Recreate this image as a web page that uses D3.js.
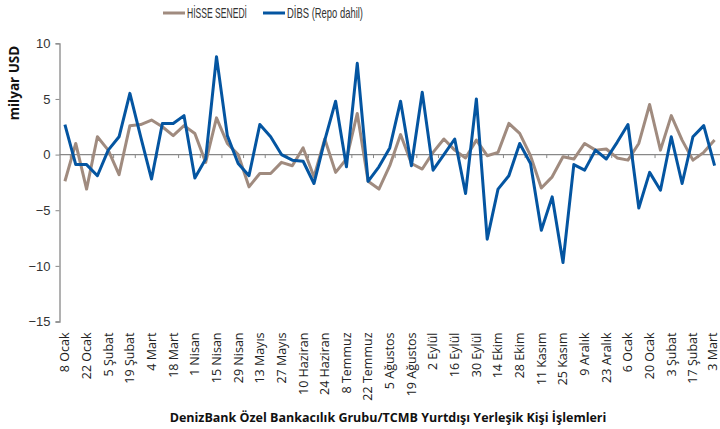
<!DOCTYPE html>
<html>
<head>
<meta charset="utf-8">
<script src="https://cdn.jsdelivr.net/npm/d3@7"></script>
<style>
  body { margin: 0; background: #fff; }
  svg { display: block; }
</style>
</head>
<body>
<div id="chart"></div>
<script>
// Haftalık kategoriler (etiket her iki haftada bir)
const weeks = [
  "8 Ocak", "15 Ocak", "22 Ocak", "29 Ocak", "5 Şubat", "12 Şubat", "19 Şubat", "26 Şubat",
  "4 Mart", "11 Mart", "18 Mart", "25 Mart", "1 Nisan", "8 Nisan", "15 Nisan", "22 Nisan",
  "29 Nisan", "6 Mayıs", "13 Mayıs", "20 Mayıs", "27 Mayıs", "3 Haziran", "10 Haziran", "17 Haziran",
  "24 Haziran", "1 Temmuz", "8 Temmuz", "15 Temmuz", "22 Temmuz", "29 Temmuz", "5 Ağustos", "12 Ağustos",
  "19 Ağustos", "26 Ağustos", "2 Eylül", "9 Eylül", "16 Eylül", "23 Eylül", "30 Eylül", "7 Ekim",
  "14 Ekim", "21 Ekim", "28 Ekim", "4 Kasım", "11 Kasım", "18 Kasım", "25 Kasım", "2 Aralık",
  "9 Aralık", "16 Aralık", "23 Aralık", "30 Aralık", "6 Ocak", "13 Ocak", "20 Ocak", "27 Ocak",
  "3 Şubat", "10 Şubat", "17 Şubat", "24 Şubat", "3 Mart"
];

// HİSSE SENEDİ (milyar USD)
const hisse = [
  -2.4, 1.0, -3.1, 1.6, 0.4, -1.8, 2.6, 2.7, 3.1, 2.5, 1.7, 2.6, 1.9, -0.7, 3.3, 1.0,
  0.0, -2.9, -1.7, -1.7, -0.7, -1.0, 0.6, -2.0, 1.4, -1.6, -0.4, 3.7, -2.4, -3.1, -1.0, 1.8,
  -0.8, -1.3, 0.2, 1.4, 0.4, -0.3, 1.3, -0.1, 0.2, 2.8, 1.9, -0.1, -3.0, -2.0, -0.2, -0.4,
  1.0, 0.4, 0.5, -0.3, -0.5, 1.0, 4.5, 0.4, 3.5, 1.3, -0.5, 0.2, 1.3
];

// DİBS (Repo dahil) (milyar USD)
const dibs = [
  2.7, -0.9, -0.9, -1.9, 0.4, 1.6, 5.5, 1.6, -2.2, 2.8, 2.8, 3.5, -2.1, -0.4, 8.8, 1.7,
  -0.8, -1.9, 2.7, 1.6, 0.0, -0.5, -0.6, -2.6, 1.3, 4.8, -1.1, 8.2, -2.4, -1.1, 0.6, 4.8,
  -1.0, 5.6, -1.4, 0.0, 1.4, -3.5, 5.0, -7.6, -3.1, -1.9, 1.0, -0.8, -6.8, -3.8, -9.7, -0.9,
  -1.4, 0.4, -0.4, 1.1, 2.7, -4.8, -1.6, -3.2, 1.6, -2.6, 1.6, 2.6, -1.0
];

const yTicks = [10, 5, 0, -5, -10, -15];

const series = [
  { name: "HİSSE SENEDİ", values: hisse, color: "#a08b7f" },
  { name: "DİBS (Repo dahil)", values: dibs, color: "#0455a1" }
];

const width = 720, height = 429;
const plot = { left: 59.5, right: 720, top: 43.3, bottom: 321.5 };

const svg = d3.select("#chart").append("svg")
  .attr("width", width)
  .attr("height", height);

const x = d3.scaleBand().domain(weeks).range([plot.left, plot.right]).padding(0);
const cx = d => x(d) + x.bandwidth() / 2;
const y = d3.scaleLinear().domain([-15, 10]).range([plot.bottom, plot.top]);

const axisColor = "#888";

// Y ekseni
const yAxis = svg.append("g")
  .attr("transform", `translate(${plot.left},0)`)
  .call(d3.axisLeft(y).tickValues(yTicks).tickSize(4).tickPadding(5));
yAxis.select(".domain").attr("stroke", axisColor).attr("stroke-width", 1.3);
yAxis.selectAll(".tick line").attr("stroke", axisColor);
yAxis.selectAll(".tick text")
  .attr("fill", "#333")
  .style("font-family", "'Liberation Sans', Arial, sans-serif")
  .style("font-size", "13px");

// Sıfır çizgisi (kategori ekseni)
svg.append("line")
  .attr("x1", plot.left).attr("x2", plot.right)
  .attr("y1", y(0)).attr("y2", y(0))
  .attr("stroke", axisColor).attr("stroke-width", 1.3);

// Kategori ekseni tikleri (iki haftada bir)
svg.selectAll(".xtick")
  .data(weeks.filter((d, i) => i % 2 === 0 && i + 1 < weeks.length))
  .enter().append("line")
  .attr("class", "xtick")
  .attr("x1", d => x(d) + x.bandwidth()).attr("x2", d => x(d) + x.bandwidth())
  .attr("y1", y(0)).attr("y2", y(0) + 3.5)
  .attr("stroke", axisColor);

// Kategori etiketleri
svg.selectAll(".xlabel")
  .data(weeks.filter((d, i) => i % 2 === 0))
  .enter().append("text")
  .attr("class", "xlabel")
  .attr("transform", d => `translate(${Math.min(cx(d), 713)},${plot.bottom + 11}) rotate(-90)`)
  .attr("dy", "0.35em")
  .attr("text-anchor", "end")
  .attr("fill", "#222")
  .style("font-family", "'Open Sans', sans-serif")
  .style("font-size", "12.5px")
  .text(d => d);

// Çizgiler
const line = d3.line()
  .x((d, i) => cx(weeks[i]))
  .y(d => y(d));

series.forEach(s => {
  svg.append("path")
    .datum(s.values)
    .attr("fill", "none")
    .attr("stroke", s.color)
    .attr("stroke-width", 3)
    .attr("stroke-linejoin", "round")
    .attr("d", line);
});

// Lejant (dar yazı tipi yerine textLength ile sıkıştırılmış)
const legendX = [163, 263];
const legendLen = [60, 76];
series.forEach((s, i) => {
  const g = svg.append("g").attr("transform", `translate(${legendX[i]},13)`);
  g.append("line")
    .attr("x1", 0).attr("x2", 22)
    .attr("stroke", s.color).attr("stroke-width", 3);
  g.append("text")
    .attr("x", 24)
    .attr("dy", "0.35em")
    .attr("fill", "#333")
    .attr("textLength", legendLen[i])
    .attr("lengthAdjust", "spacingAndGlyphs")
    .style("font-family", "'Liberation Sans', Arial, sans-serif")
    .style("font-size", "14.5px")
    .text(s.name);
});

// Eksen başlıkları
svg.append("text")
  .attr("transform", `translate(14,83) rotate(-90)`)
  .attr("text-anchor", "middle")
  .attr("dy", "0.35em")
  .attr("fill", "#111")
  .style("font-family", "'Open Sans', sans-serif")
  .style("font-weight", "bold")
  .style("font-size", "13.5px")
  .text("milyar USD");

svg.append("text")
  .attr("x", 388)
  .attr("y", 422)
  .attr("text-anchor", "middle")
  .attr("fill", "#111")
  .style("font-family", "'Open Sans', sans-serif")
  .style("font-weight", "bold")
  .style("font-size", "12.5px")
  .text("DenizBank Özel Bankacılık Grubu/TCMB Yurtdışı Yerleşik Kişi İşlemleri");
</script>
</body>
</html>
